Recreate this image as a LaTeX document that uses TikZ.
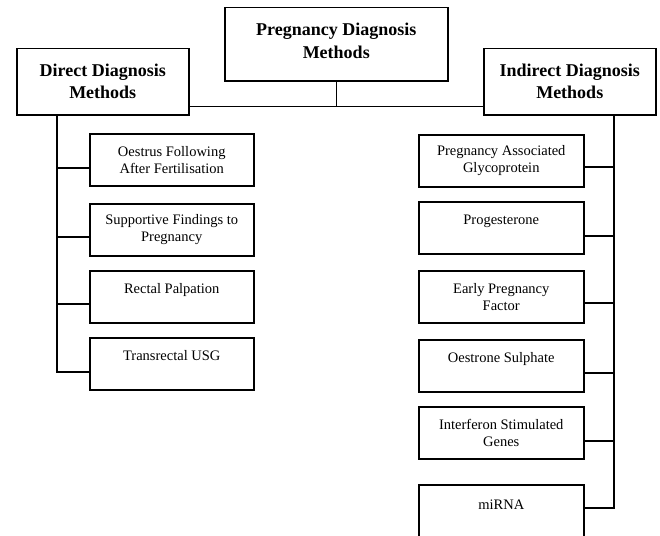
\documentclass[tikz,border=0pt]{standalone}
\usepackage{fontspec}
\setmainfont{Liberation Serif}
\usetikzlibrary{calc}
\begin{document}
\begin{tikzpicture}[x=1pt,y=-1pt,
  box/.style={draw, line width=1.5pt, minimum width=164pt, minimum height=52pt,
    inner sep=0pt, align=center, font=\fontsize{14.5}{17}\selectfont, anchor=north west},
  rbox/.style={box, minimum width=165pt},
  head/.style={draw, line width=1.5pt, inner sep=0pt, align=center,
    font=\bfseries\fontsize{18}{22}\selectfont, anchor=north west},
  link/.style={line width=1.5pt}]
\clip (0,0) rectangle (660,535);
\node[head, minimum width=223pt, minimum height=73pt, font=\bfseries\fontsize{18}{23}\selectfont] (top) at (224,7) {Pregnancy Diagnosis\\Methods\\[-16pt]\mbox{}};
\node[head, minimum width=172pt, minimum height=66pt] (direct) at (16,48) {Direct Diagnosis\\Methods};
\node[head, minimum width=172pt, minimum height=66pt] (indirect) at (483,48) {Indirect Diagnosis\\Methods};

\node[box] (l1) at (89,133) {Oestrus Following\\After Fertilisation};
\node[box] (l2) at (89,203) {Supportive Findings to\\Pregnancy};
\node[box] (l3) at (89,270) {Rectal Palpation\\\mbox{}};
\node[box] (l4) at (89,337) {Transrectal USG\\\mbox{}};

\node[rbox] (r1) at (418,134) {Pregnancy Associated\\Glycoprotein};
\node[rbox] (r2) at (418,201) {Progesterone\\\mbox{}};
\node[rbox] (r3) at (418,270) {Early Pregnancy\\Factor};
\node[rbox] (r4) at (418,339) {Oestrone Sulphate\\\mbox{}};
\node[rbox] (r5) at (418,406) {Interferon Stimulated\\Genes};
\node[rbox, minimum height=70pt, text depth=30pt] (r6) at (418,484) {miRNA};

\coordinate (hub) at ($(top.south)+(0,25)$);
\draw[link] (top.south) -- (hub);
\draw[link] (direct.east |- hub) -- (indirect.west |- hub);

\coordinate (ls) at ($(direct.south west)+(41,0)$);
\draw[link] ($(l1.north west)+(0,35)$) -| (ls);
\draw[link] ($(l2.north west)+(0,34)$) -| (ls);
\draw[link] ($(l3.north west)+(0,34)$) -| (ls);
\draw[link] ($(l4.north west)+(0,35)$) -| (ls);

\coordinate (rs) at ($(indirect.south west)+(131,0)$);
\draw[link] ($(r1.north east)+(0,33)$) -| (rs);
\draw[link] ($(r2.north east)+(0,35)$) -| (rs);
\draw[link] ($(r3.north east)+(0,33)$) -| (rs);
\draw[link] ($(r4.north east)+(0,34)$) -| (rs);
\draw[link] ($(r5.north east)+(0,35)$) -| (rs);
\draw[link] ($(r6.north east)+(0,24)$) -| (rs);
\end{tikzpicture}
\end{document}
